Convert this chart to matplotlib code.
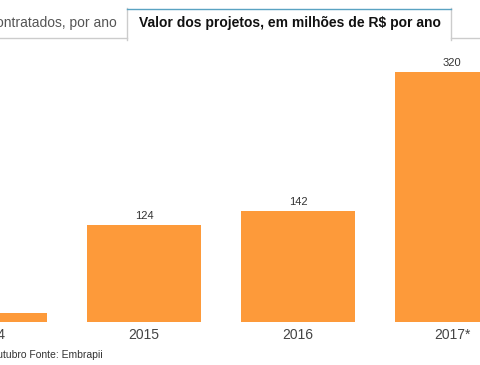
import matplotlib.pyplot as plt
from matplotlib.patches import Rectangle
from matplotlib.lines import Line2D
import matplotlib.transforms as mtransforms

plt.rcParams['font.family'] = ['Liberation Sans', 'DejaVu Sans']

anos = ['2014', '2015', '2016', '2017*']
valores = [12, 124, 142, 320]
aba_ativa = 'Valor dos projetos, em milhões de R$ por ano'
aba_outra = 'Projetos contratados, por ano'
rodape = '*Até outubro Fonte: Embrapii'

W, H = 480, 365
laranja = '#fd9a3a'

fig = plt.figure(figsize=(W / 100, H / 100), dpi=100)


def fy(py):
    # pixel a partir do topo -> fração da figura
    return 1 - py / H


def fx(px):
    return px / W


# eixo: base em y=322px, 320 em y=72px
base_px, topo_px = 322, 45
ax = fig.add_axes([0, fy(base_px), 1, (base_px - topo_px) / H])
passo = 154
x0 = 10 / passo
ax.set_xlim(x0, x0 + W / passo)
ax.set_ylim(0, 320 * (base_px - topo_px) / (base_px - 72))
ax.axis('off')

pos = list(range(len(anos)))
ax.bar(pos, valores, width=114 / passo, color=laranja)

for p, v in zip(pos, valores):
    ax.annotate(str(v), (p, v), xytext=(0, 3), textcoords='offset points',
                ha='center', va='bottom', fontsize=8, color='#333333',
                clip_on=False, annotation_clip=False)

trans = mtransforms.blended_transform_factory(ax.transData, ax.transAxes)
for p, a in zip(pos, anos):
    ax.text(p, -13 / (base_px - topo_px), a, transform=trans, ha='center',
            va='center', fontsize=10, color='#444444', clip_on=False)

# abas no topo
fig.lines.append(Line2D([0, fx(127)], [fy(38), fy(38)], transform=fig.transFigure,
                        color='#cccccc', lw=1))
fig.lines.append(Line2D([fx(451), 1], [fy(38), fy(38)], transform=fig.transFigure,
                        color='#cccccc', lw=1))
fig.lines.append(Line2D([fx(127), fx(127)], [fy(8), fy(40)], transform=fig.transFigure,
                        color='#cccccc', lw=1))
fig.lines.append(Line2D([fx(451), fx(451)], [fy(8), fy(40)], transform=fig.transFigure,
                        color='#cccccc', lw=1))
fig.lines.append(Line2D([fx(127), fx(451)], [fy(8.5), fy(8.5)], transform=fig.transFigure,
                        color='#5aa3c2', lw=1))
fig.text(fx(117), fy(23), aba_outra, ha='right', va='center', fontsize=10,
         color='#555555')
fig.text(fx(290), fy(23), aba_ativa, ha='center', va='center', fontsize=10,
         fontweight='bold', color='#111111')

fig.text(fx(103), fy(355), rodape, ha='right', va='center', fontsize=7.5,
         color='#333333')

fig.savefig('out.png', dpi=100)
